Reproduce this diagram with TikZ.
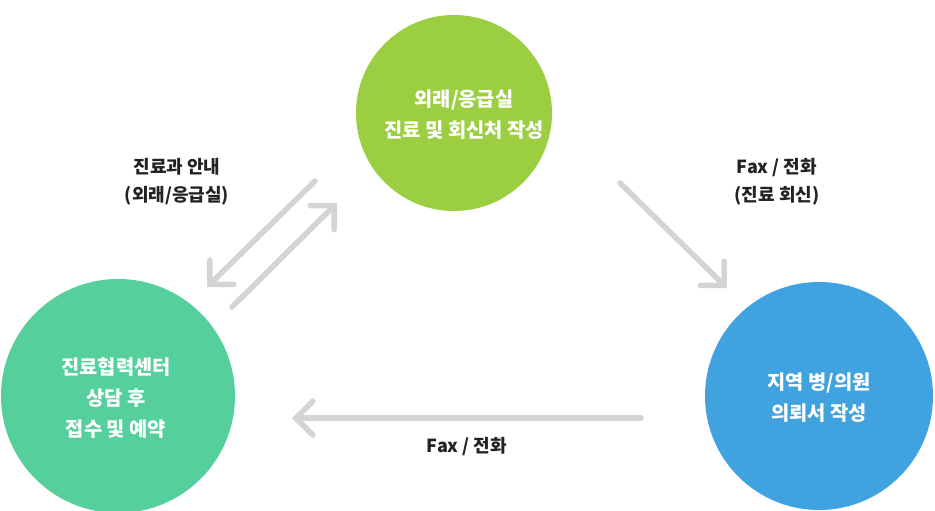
\documentclass[tikz,border=0pt]{standalone}
\usepackage{fontspec}
\setmainfont{Noto Sans CJK KR}
\usetikzlibrary{arrows.meta}
\definecolor{cgreen}{HTML}{9BCF41}
\definecolor{cteal}{HTML}{55D09D}
\definecolor{cblue}{HTML}{41A2E0}
\definecolor{carrow}{HTML}{D4D4D4}
\definecolor{ctext}{HTML}{222222}
\begin{document}
\begin{tikzpicture}[x=1pt,y=-1pt,
  circ/.style={circle,inner sep=0pt,fill=#1},
  ctxt/.style={text=white,align=center,font=\fontsize{19.8}{31}\selectfont\bfseries},
  lbl/.style={align=center,font=\fontsize{18}{28}\selectfont\bfseries,text=ctext},
  flow/.style={draw=carrow,line width=5.5pt,line cap=round,-{Straight Barb[length=17pt,width=34pt,line cap=round]}}]
\useasboundingbox (0,0) rectangle (935,511);
\fill[white] (0,0) rectangle (935,511);
\node[circ=cgreen,minimum size=196pt] (top) at (454,113) {};
\node[circ=cteal,minimum size=234pt] (left) at (118,396) {};
\node[circ=cblue,minimum size=228pt] (right) at (819,396) {};
\node[ctxt] (toptext) at (464,115) {외래/응급실\\진료 및 회신처 작성};
\node[ctxt] (lefttext) at (116,398) {진료협력센터\\상담 후\\접수 및 예약};
\node[ctxt] (righttext) at (819,398) {지역 병/의원\\의뢰서 작성};
\coordinate (a1s) at (315,181); \coordinate (a1e) at (207,287);
\coordinate (a2s) at (232,307); \coordinate (a2e) at (337,203);
\coordinate (a3s) at (620,183); \coordinate (a3e) at (727,288);
\coordinate (a4s) at (641,418); \coordinate (a4e) at (292,418);
\draw[flow] (a1s) -- (a1e);
\draw[flow] (a2s) -- (a2e);
\draw[flow] (a3s) -- (a3e);
\draw[flow] (a4s) -- (a4e);
\node[lbl] (l1) at (177,182) {진료과 안내\\(외래/응급실)};
\node[lbl] (l2) at (777,182) {Fax / 전화\\(진료 회신)};
\node[lbl] (l3) at (467,447) {Fax / 전화};
\end{tikzpicture}
\end{document}
